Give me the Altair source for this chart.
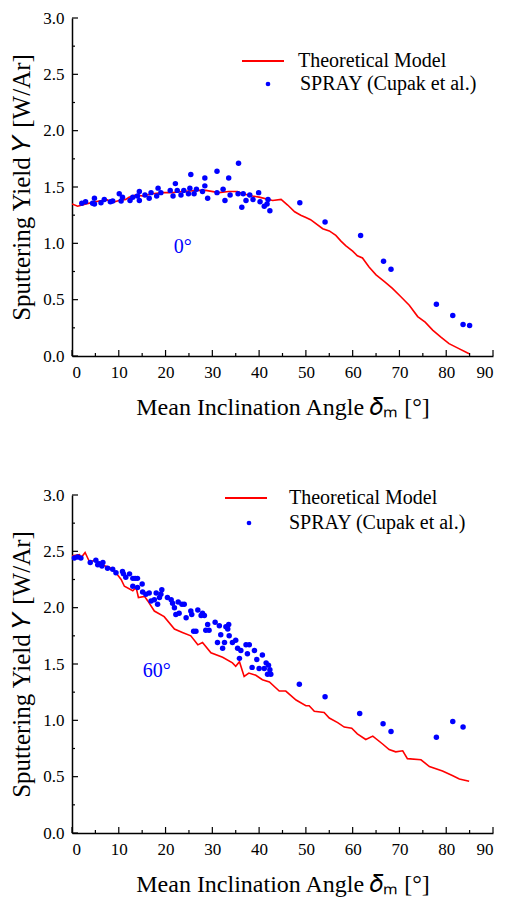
import altair as alt
import pandas as pd

# ---------------- data ----------------
theory0_x = [0, 1.2, 3, 5.8, 7.6, 8.3, 10.1, 11.5, 12.2, 13.7, 15.1, 17.2, 19.4, 21.5, 23.6, 27.2,
             28.6, 31.4, 33.5, 35.4, 36.5, 38.6, 40.0, 42.9, 44.7, 46.1, 47.6, 48.9, 50.0, 51.0,
             53.6, 55.0, 56.4, 57.5, 58.5, 60.0, 61.0, 62.1, 63.5, 65.0, 66.8, 68.5, 70.2, 72.1,
             73.9, 75.5, 77.1, 78.8, 80.6, 82.5, 84.9]
theory0_y = [1.35, 1.33, 1.35, 1.375, 1.385, 1.36, 1.38, 1.39, 1.41, 1.43, 1.42, 1.44, 1.45, 1.45, 1.46, 1.47,
             1.47, 1.45, 1.46, 1.46, 1.44, 1.42, 1.41, 1.38, 1.39, 1.34, 1.28, 1.25, 1.23, 1.21,
             1.13, 1.11, 1.07, 1.02, 0.98, 0.93, 0.89, 0.87, 0.79, 0.72, 0.66, 0.60, 0.53, 0.45,
             0.35, 0.30, 0.23, 0.17, 0.11, 0.07, 0.02]

spray0_x = [2.1, 2.9, 4.4, 4.8, 4.8, 6.2, 6.9, 8.2, 8.7, 10.1, 10.5, 10.8, 12.4, 13.0, 14.4, 14.4, 14.0,
            15.6, 16.5, 16.9, 18.1, 18.4, 19.0, 21.0, 21.6, 22.1, 22.5, 23.3, 23.9, 24.9, 25.2, 25.4,
            26.1, 26.6, 27.9, 28.4, 28.4, 29.0, 31.0, 31.0, 32.3, 32.7, 33.5, 33.8, 35.6, 35.5, 36.3,
            36.6, 37.2, 38.0, 38.7, 39.9, 40.2, 41.1, 41.7, 41.9, 42.3,
            48.7, 54.1, 61.7, 66.6, 68.2, 77.9, 81.4, 83.6, 85.0]
spray0_y = [1.355, 1.37, 1.355, 1.35, 1.40, 1.36, 1.39, 1.37, 1.375, 1.44, 1.375, 1.41, 1.38, 1.41, 1.46, 1.38, 1.42,
            1.43, 1.40, 1.45, 1.42, 1.49, 1.45, 1.47, 1.42, 1.53, 1.47, 1.43, 1.47, 1.44, 1.49, 1.61,
            1.44, 1.48, 1.46, 1.58, 1.51, 1.40, 1.64, 1.45, 1.48, 1.38, 1.58, 1.43, 1.71, 1.44, 1.32,
            1.44, 1.38, 1.43, 1.39, 1.45, 1.37, 1.33, 1.35, 1.39, 1.29,
            1.36, 1.19, 1.07, 0.84, 0.77, 0.46, 0.36, 0.28, 0.27]

theory60_x = [0, 1.6, 1.9, 2.8, 3.7, 5.1, 6.2, 8.0, 9.4, 10.5, 11.2, 13.0, 13.7, 14.2, 15.5, 16.2, 17.6,
              19.7, 21.9, 23.6, 25.4, 26.9, 27.9, 29.7, 32.2, 34.3, 35.0, 35.8, 36.8, 37.8, 39.3, 40.7,
              42.2, 44.3, 45.7, 47.9, 50.0, 50.7, 51.8, 53.9, 55.0, 56.8, 58.2, 59.8, 61.0, 62.8, 64.3,
              66.4, 67.8, 69.2, 70.7, 71.7, 74.6, 76.4, 79.2, 81.3, 82.8, 84.9]
theory60_y = [2.46, 2.47, 2.44, 2.49, 2.41, 2.42, 2.38, 2.36, 2.31, 2.25, 2.19, 2.15, 2.18, 2.09, 2.10, 2.06, 1.97,
              1.92, 1.81, 1.78, 1.75, 1.67, 1.69, 1.60, 1.56, 1.51, 1.48, 1.52, 1.39, 1.42, 1.40, 1.36,
              1.34, 1.26, 1.26, 1.18, 1.13, 1.13, 1.08, 1.07, 1.02, 0.98, 0.94, 0.93, 0.88, 0.83, 0.86,
              0.79, 0.74, 0.72, 0.73, 0.66, 0.65, 0.59, 0.55, 0.51, 0.48, 0.46]

spray60_x = [0.5, 1.2, 1.9, 3.9, 5.1, 5.5, 5.8, 6.6, 6.4, 7.6, 8.7, 9.4, 10.8, 11.0, 11.5, 12.3, 13.0, 13.0,
             13.5, 14.0, 14.0, 15.0, 15.1, 15.8, 16.5, 16.9, 17.6, 18.0, 18.3, 18.7, 19.0, 19.2, 20.4,
             21.2, 21.5, 21.9, 22.2, 22.7, 22.9, 23.5, 24.0, 24.4, 25.4, 25.6, 26.0, 26.5, 26.9, 27.6,
             27.9, 28.3, 28.6, 29.0, 29.3, 30.6, 31.1, 31.5, 31.8, 32.2, 32.6, 32.9, 33.3, 33.5, 33.6,
             34.3, 35.0, 35.4, 35.8, 36.1, 37.2, 37.5, 37.9, 38.5, 39.0, 39.5, 40.0, 40.7, 41.1, 41.5,
             41.8, 42.0, 42.3, 42.5,
             48.6, 54.1, 61.5, 66.5, 68.2, 77.9, 81.4, 83.6]
spray60_y = [2.44, 2.45, 2.44, 2.40, 2.42, 2.38, 2.39, 2.40, 2.37, 2.35, 2.34, 2.31, 2.32, 2.30, 2.27, 2.30, 2.26, 2.19,
             2.26, 2.26, 2.18, 2.21, 2.14, 2.12, 2.13, 2.06, 2.07, 2.13, 2.03, 2.09, 2.12, 2.16, 2.09,
             2.07, 2.04, 2.00, 1.94, 2.05, 1.95, 2.03, 2.03, 1.91, 1.97, 1.94, 1.79, 1.79, 1.98, 1.93,
             1.95, 1.93, 1.80, 1.85, 1.80, 1.87, 1.69, 1.84, 1.76, 1.64, 1.69, 1.83, 1.81, 1.85, 1.75,
             1.69, 1.71, 1.64, 1.55, 1.62, 1.67, 1.59, 1.67, 1.47, 1.62, 1.54, 1.46, 1.58, 1.46, 1.51,
             1.41, 1.49, 1.45, 1.41,
             1.32, 1.21, 1.06, 0.97, 0.90, 0.85, 0.99, 0.94]

x_major = [0, 10, 20, 30, 40, 50, 60, 70, 80, 90]
x_minor = [5, 15, 25, 35, 45, 55, 65, 75, 85]
y_major = [0.0, 0.5, 1.0, 1.5, 2.0, 2.5, 3.0]
y_minor = [0.25, 0.75, 1.25, 1.75, 2.25, 2.75]

LINE_NAME = "Theoretical Model"
DOT_NAME = "SPRAY (Cupak et al.)"

# ---------------- style ----------------
FONT = "Liberation Serif"
W, H = 421, 338
RED = "#ff0000"
BLUE = "#0000ff"
X_TITLE = "Mean Inclination Angle 𝛿ₘ [°]"
Y_TITLE = "Sputtering Yield 𝑌 [W/Ar]"

xscale = alt.Scale(domain=[0, 90], nice=False, zero=False)
yscale = alt.Scale(domain=[0, 3], nice=False, zero=False)

axis_style = dict(ticks=False, tickSize=0, grid=False,
                  labelFont=FONT, labelFontSize=17, labelColor="black",
                  titleFont=FONT, titleFontWeight="normal", titleColor="black",
                  domainColor="black", domainWidth=1.5)
x_axis = alt.Axis(values=x_major, format="d", title=X_TITLE, labelPadding=8, titlePadding=15,
                  titleFontSize=24, **axis_style)
y_axis = alt.Axis(values=y_major, format=".1f", title=Y_TITLE, labelPadding=8, titlePadding=8,
                  titleFontSize=25, **axis_style)


def X(field):
    return alt.X(field, type="quantitative", scale=xscale, axis=x_axis, title=X_TITLE)


def Y(field):
    return alt.Y(field, type="quantitative", scale=yscale, axis=y_axis, title=Y_TITLE)


def panel(tx, ty, sx, sy, label, label_x, label_y, line_leg, dot_leg):
    line_df = pd.DataFrame({"x": tx, "y": ty, "series": LINE_NAME})
    dot_df = pd.DataFrame({"x": sx, "y": sy, "series": DOT_NAME})

    line = alt.Chart(line_df).mark_line(strokeWidth=1.6, clip=True).encode(
        x=X("x"), y=Y("y"),
        color=alt.Color("series:N", scale=alt.Scale(domain=[LINE_NAME], range=[RED]),
                        legend=alt.Legend(title=None, orient="none", legendX=line_leg[0], legendY=line_leg[1],
                                          symbolType="stroke", symbolSize=42 * 42, symbolStrokeWidth=2,
                                          labelFont=FONT, labelFontSize=20, labelColor="black",
                                          labelLimit=400, labelOffset=line_leg[2], padding=0)),
    )
    dots = alt.Chart(dot_df).mark_point(filled=True, size=30, opacity=1, color=BLUE).encode(
        x=X("x"), y=Y("y"),
        shape=alt.Shape("series:N", scale=alt.Scale(domain=[DOT_NAME], range=["circle"]),
                        legend=alt.Legend(title=None, orient="none", legendX=dot_leg[0], legendY=dot_leg[1],
                                          symbolSize=22, symbolFillColor=BLUE, symbolStrokeWidth=0,
                                          labelFont=FONT, labelFontSize=20, labelColor="black",
                                          labelLimit=400, labelOffset=dot_leg[2], padding=0)),
    )
    txt = alt.Chart(pd.DataFrame({"label": [label]})).mark_text(
        font=FONT, fontSize=20, color=BLUE).encode(
        text="label:N",
        x=alt.datum(label_x, type="quantitative"), y=alt.datum(label_y, type="quantitative")
    )
    xt_major = alt.Chart(pd.DataFrame({"x": x_major})).mark_rule(color="black", strokeWidth=1.2).encode(
        x=X("x"), y=alt.value(H), y2=alt.value(H - 6))
    xt_minor = alt.Chart(pd.DataFrame({"x": x_minor})).mark_rule(color="black", strokeWidth=1.2).encode(
        x=X("x"), y=alt.value(H), y2=alt.value(H - 3))
    yt_major = alt.Chart(pd.DataFrame({"y": y_major})).mark_rule(color="black", strokeWidth=1.2).encode(
        y=Y("y"), x=alt.value(0), x2=alt.value(6))
    yt_minor = alt.Chart(pd.DataFrame({"y": y_minor})).mark_rule(color="black", strokeWidth=1.2).encode(
        y=Y("y"), x=alt.value(0), x2=alt.value(3))

    return alt.layer(line, dots, txt, xt_major, xt_minor, yt_major, yt_minor).properties(
        width=W, height=H
    ).resolve_scale(color="independent", shape="independent")


top = panel(theory0_x, theory0_y, spray0_x, spray0_y, "0°", 23.7, 0.97,
            (169, 21, 13), (186, 56, 22))
bottom = panel(theory60_x, theory60_y, spray60_x, spray60_y, "60°", 18.1, 1.44,
               (152, -19, 21), (167, 18, 30))

chart = alt.vconcat(top, bottom, spacing=57).resolve_scale(
    color="independent", shape="independent"
).resolve_legend(color="independent", shape="independent").properties(
    padding={"left": 9, "top": 9, "right": 5, "bottom": 5},
    background="white",
).configure_view(stroke=None)

chart.save("out.html", embed_options={"renderer": "svg", "actions": False})
